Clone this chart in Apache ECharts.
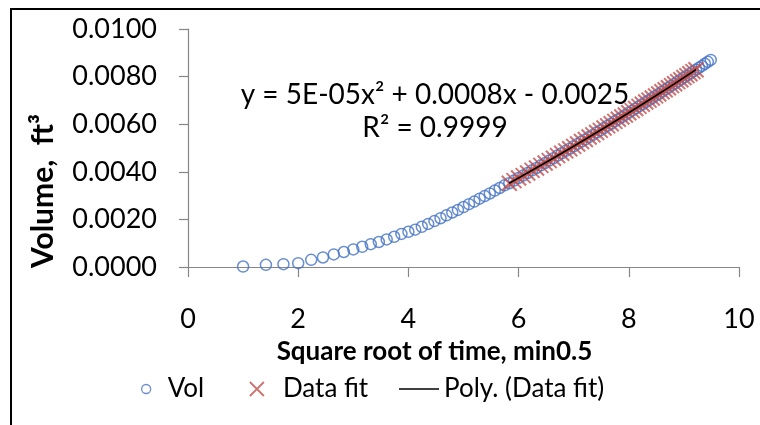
<!DOCTYPE html>
<html><head><meta charset="utf-8">
<script src="https://cdn.jsdelivr.net/npm/echarts@6/dist/echarts.min.js"></script>
<style>html,body{margin:0;padding:0;background:#fff}#c{width:760px;height:425px}</style>
</head><body><div id="c"></div>
<script>
const volX = [1.000,1.414,1.732,2.000,2.236,2.449,2.646,2.828,3.000,3.162,
3.317,3.464,3.606,3.742,3.873,4.000,4.123,4.243,4.359,4.472,
4.583,4.690,4.796,4.899,5.000,5.099,5.196,5.292,5.385,5.477,
5.568,5.657,5.745,5.831,5.916,6.000,6.083,6.164,6.245,6.325,
6.403,6.481,6.557,6.633,6.708,6.782,6.856,6.928,7.000,7.071,
7.141,7.211,7.280,7.348,7.416,7.483,7.550,7.616,7.681,7.746,
7.810,7.874,7.937,8.000,8.062,8.124,8.185,8.246,8.307,8.367,
8.426,8.485,8.544,8.602,8.660,8.718,8.775,8.832,8.888,8.944,
9.000,9.055,9.110,9.165,9.220,9.274,9.327,9.381,9.434,9.487];
const volY = [0.00002,0.00009,0.00012,0.00016,0.00030,0.00040,0.00053,0.00063,0.00074,0.00085,
0.00096,0.00105,0.00116,0.00127,0.00139,0.00148,0.00157,0.00169,0.00181,0.00193,
0.00205,0.00217,0.00229,0.00240,0.00252,0.00264,0.00275,0.00287,0.00298,0.00309,
0.00321,0.00332,0.00343,0.00352,0.00363,0.00374,0.00384,0.00395,0.00406,0.00416,
0.00427,0.00437,0.00447,0.00457,0.00468,0.00478,0.00488,0.00497,0.00507,0.00517,
0.00527,0.00536,0.00546,0.00555,0.00565,0.00574,0.00584,0.00593,0.00602,0.00612,
0.00621,0.00630,0.00639,0.00648,0.00657,0.00666,0.00675,0.00684,0.00693,0.00701,
0.00710,0.00719,0.00727,0.00736,0.00745,0.00753,0.00762,0.00770,0.00779,0.00787,
0.00796,0.00804,0.00812,0.00821,0.00829,0.00837,0.00845,0.00854,0.00862,0.00870];
const fitX = [5.831,5.916,6.000,6.083,6.164,6.245,6.325,
6.403,6.481,6.557,6.633,6.708,6.782,6.856,6.928,7.000,7.071,
7.141,7.211,7.280,7.348,7.416,7.483,7.550,7.616,7.681,7.746,
7.810,7.874,7.937,8.000,8.062,8.124,8.185,8.246,8.307,8.367,
8.426,8.485,8.544,8.602,8.660,8.718,8.775,8.832,8.888,8.944,
9.000,9.055,9.110,9.165,9.220];
const fitY = [0.00352,0.00363,0.00374,0.00384,0.00395,0.00406,0.00416,
0.00427,0.00437,0.00447,0.00457,0.00468,0.00478,0.00488,0.00497,0.00507,0.00517,
0.00527,0.00536,0.00546,0.00555,0.00565,0.00574,0.00584,0.00593,0.00602,0.00612,
0.00621,0.00630,0.00639,0.00648,0.00657,0.00666,0.00675,0.00684,0.00693,0.00701,
0.00710,0.00719,0.00727,0.00736,0.00745,0.00753,0.00762,0.00770,0.00779,0.00787,
0.00796,0.00804,0.00812,0.00821,0.00829];
const trendX = [5.83, 6.5, 7.25, 8.0, 8.75, 9.22];
const trendY = [0.00352, 0.00440, 0.00542, 0.00648, 0.00758, 0.00829];
const seriesNames = ['Vol', 'Data fit', 'Poly. (Data fit)'];
const xTitle = 'Square root of time, min0.5';
const yTitle = 'Volume,  ft\u00B3';
const eqLine1 = 'y = 5E-05x\u00B2 + 0.0008x - 0.0025';
const eqLine2 = 'R\u00B2 = 0.9999';

const FONT = 'Lato';
const zip = (a, b) => a.map((v, i) => [v, b[i]]);
const xPath = 'path://M0,0L10,10M10,0L0,10';
const chart = echarts.init(document.getElementById('c'), null, {renderer: 'canvas'});
chart.setOption({
  animation: false,
  backgroundColor: '#fff',
  textStyle: {fontFamily: FONT},
  grid: {left: 188, right: 21, top: 29, bottom: 158},
  xAxis: {
    type: 'value', min: 0, max: 10, interval: 2,
    name: xTitle, nameLocation: 'middle', nameGap: 72,
    nameTextStyle: {fontFamily: FONT, fontWeight: 'bold', fontSize: 26, color: '#000', padding: [0, 58, 0, 0]},
    axisLine: {show: true, lineStyle: {color: '#868686', width: 1.2}},
    axisTick: {show: true, inside: false, length: 10, lineStyle: {color: '#868686', width: 1.2}},
    axisLabel: {fontFamily: FONT, fontSize: 27, color: '#000', margin: 39},
    splitLine: {show: false}
  },
  yAxis: {
    type: 'value', min: 0, max: 0.01, interval: 0.002,
    name: yTitle, nameLocation: 'middle', nameGap: 130,
    nameTextStyle: {fontFamily: FONT, fontWeight: 'bold', fontSize: 30, color: '#000', padding: [0, 86, 0, 0]},
    axisLine: {show: true, lineStyle: {color: '#868686', width: 1.2}},
    axisTick: {show: true, inside: false, length: 9, lineStyle: {color: '#868686', width: 1.2}},
    axisLabel: {fontFamily: FONT, fontSize: 27, color: '#000', margin: 31,
      formatter: v => v.toFixed(4)},
    splitLine: {show: false}
  },
  legend: [
    {data: [seriesNames[0]], left: 136, top: 371, itemWidth: 9, itemHeight: 9,
     itemStyle: {color: 'rgba(0,0,0,0)', borderColor: '#4472C4', borderWidth: 1.3},
     textStyle: {fontFamily: FONT, fontSize: 26, color: '#000', padding: [0, 0, 0, 12]}},
    {data: [seriesNames[1]], left: 244, top: 371, itemWidth: 14, itemHeight: 14,
     itemStyle: {color: 'rgba(0,0,0,0)', borderColor: '#C0504D', borderWidth: 1.8},
     textStyle: {fontFamily: FONT, fontSize: 26, color: '#000', padding: [0, 0, 0, 14]}},
    {data: [{name: seriesNames[2], icon: 'rect'}], left: 394, top: 371, itemWidth: 40, itemHeight: 1.6,
     itemStyle: {color: '#000'},
     textStyle: {fontFamily: FONT, fontSize: 26, color: '#000'}}
  ],
  graphic: [
    {type: 'rect', shape: {x: 11, y: 9, width: 900, height: 600},
     style: {fill: 'none', stroke: '#000', lineWidth: 2}, silent: true},
    {type: 'text', x: 435, y: 95, style: {text: eqLine1, fontFamily: FONT, fontSize: 28, fill: '#000', align: 'center', verticalAlign: 'middle'}},
    {type: 'text', x: 435, y: 128, style: {text: eqLine2, fontFamily: FONT, fontSize: 28, fill: '#000', align: 'center', verticalAlign: 'middle'}}
  ],
  series: [
    {name: seriesNames[0], type: 'scatter', data: zip(volX, volY),
     symbol: 'circle', symbolSize: 11,
     itemStyle: {color: 'rgba(0,0,0,0)', borderColor: '#4472C4', borderWidth: 1.5},
     emphasis: {disabled: true}},
    {name: seriesNames[1], type: 'scatter', data: zip(fitX, fitY),
     symbol: xPath, symbolSize: 15,
     itemStyle: {color: 'rgba(0,0,0,0)', borderColor: '#C0504D', borderWidth: 2},
     emphasis: {disabled: true}},
    {name: seriesNames[2], type: 'line', data: zip(trendX, trendY),
     smooth: true, symbol: 'none', showSymbol: false,
     lineStyle: {color: '#000', width: 1.6},
     itemStyle: {color: '#000'},
     emphasis: {disabled: true}}
  ]
});
</script></body></html>
